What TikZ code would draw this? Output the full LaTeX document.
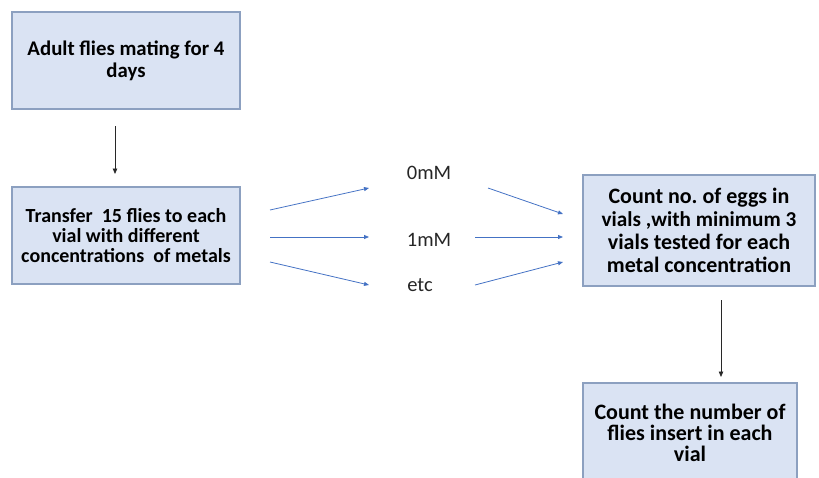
\documentclass[tikz,border=0pt]{standalone}
\usepackage{fontspec}
\setmainfont{Carlito}
\frenchspacing
\usetikzlibrary{arrows.meta}
\definecolor{boxfill}{RGB}{218,227,243}
\definecolor{boxline}{RGB}{140,160,192}
\definecolor{arrblue}{RGB}{68,114,196}
\definecolor{arrblack}{RGB}{40,40,40}
\tikzset{
  stepbox/.style={draw=boxline, fill=boxfill, line width=1.1pt, align=center, inner sep=0pt, font=\bfseries},
  lbl/.style={font=\fontsize{20.5}{22}\selectfont, text=black!85, inner sep=0pt},
  blarrow/.style={draw=arrblue, line width=0.8pt, -{Triangle[length=5pt,width=4pt]}},
  bkarrow/.style={draw=arrblack, line width=0.8pt, -{Triangle[length=5.5pt,width=4.5pt]}}
}
\begin{document}
\begin{tikzpicture}[x=1pt,y=-1pt]
\useasboundingbox (0,0) rectangle (819,477);
\begin{scope}
\clip (0,0) rectangle (819,477);
\node[stepbox, minimum width=228pt, minimum height=97pt, font=\bfseries\fontsize{20.8}{22}\selectfont] (b1) at (126,60.5) {Adult flies mating for 4\\days};
\node[stepbox, minimum width=228pt, minimum height=97pt, font=\bfseries\fontsize{20}{20}\selectfont] (b2) at (126,235.5) {Transfer\ \ 15 flies to each\\vial with different\\concentrations\ \ of metals};
\node[stepbox, minimum width=232pt, minimum height=111pt, font=\bfseries\fontsize{22}{23}\selectfont] (b3) at (699,230.5) {Count no. of eggs in\\{\fontsize{21.2}{23}\selectfont vials ,with minimum 3}\\vials tested for each\\metal concentration};
\node[stepbox, minimum width=214pt, minimum height=100pt, font=\bfseries\fontsize{22}{21}\selectfont] (b4) at (690,433) {Count the number of\\flies insert in each\\vial};
\end{scope}
\node[lbl] (m0) at (429,173) {0mM};
\node[lbl] (m1) at (429,240) {1mM};
\node[lbl] (me) at (420,285) {etc};
% connector end points
\coordinate (a1s) at (115,126); \coordinate (a1e) at (115,174);
\coordinate (a2s) at (721,300); \coordinate (a2e) at (721,377);
\coordinate (la) at (270,210); \coordinate (lae) at (369,188);
\coordinate (lb) at (270,237); \coordinate (lbe) at (369,237);
\coordinate (lc) at (270,262); \coordinate (lce) at (369,285);
\coordinate (ra) at (488,188); \coordinate (rae) at (563,214);
\coordinate (rb) at (475,237); \coordinate (rbe) at (563,237);
\coordinate (rc) at (475,285); \coordinate (rce) at (563,262);
\draw[bkarrow] (a1s) -- (a1e);
\draw[bkarrow] (a2s) -- (a2e);
\draw[blarrow] (la) -- (lae);
\draw[blarrow] (lb) -- (lbe);
\draw[blarrow] (lc) -- (lce);
\draw[blarrow] (ra) -- (rae);
\draw[blarrow] (rb) -- (rbe);
\draw[blarrow] (rc) -- (rce);
\end{tikzpicture}
\end{document}
